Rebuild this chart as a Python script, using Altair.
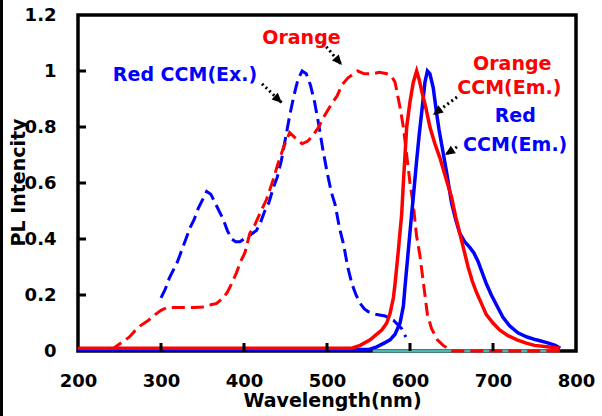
import altair as alt
import pandas as pd

# ---------------- data ----------------
# Red CCM (Ex.)  - blue dashed
red_ex_wl = [300, 305, 310, 315, 320, 325, 330, 335, 340, 345, 350, 355, 360, 365, 370, 375,
             380, 385, 390, 395, 400, 405, 410, 415, 420, 425, 430, 435, 440, 445, 450, 455,
             460, 465, 470, 475, 480, 485, 490, 495, 500, 505, 510, 515, 520, 525, 530, 535,
             540, 545, 550, 560, 570, 580, 590, 595]
red_ex_val = [0.19, 0.22, 0.26, 0.29, 0.32, 0.36, 0.40, 0.44, 0.47, 0.51, 0.54, 0.57, 0.56, 0.53,
              0.50, 0.47, 0.43, 0.40, 0.39, 0.39, 0.40, 0.41, 0.42, 0.43, 0.46, 0.50, 0.53, 0.58,
              0.62, 0.68, 0.76, 0.84, 0.91, 0.97, 1.00, 0.99, 0.95, 0.89, 0.81, 0.72, 0.64, 0.57,
              0.52, 0.44, 0.38, 0.30, 0.24, 0.20, 0.17, 0.15, 0.14, 0.13, 0.125, 0.11, 0.08, 0.05]

# Orange CCM (Ex.) - red dashed
orange_ex_wl = [240, 245, 250, 255, 262, 268, 275, 285, 293, 300, 307, 320, 331, 340, 350, 360,
                367, 375, 380, 385, 391, 396, 401, 407, 413, 419, 427, 435, 441, 448, 455, 462,
                470, 477, 483, 490, 497, 505, 512, 518, 525, 537, 545, 554, 563, 572, 578, 582,
                588, 592, 596, 600, 604, 608, 612, 615, 618, 621, 626, 633, 640, 650, 700, 780]
orange_ex_val = [0.0, 0.015, 0.025, 0.035, 0.05, 0.07, 0.09, 0.11, 0.13, 0.145, 0.155, 0.155,
                 0.155, 0.155, 0.157, 0.165, 0.17, 0.19, 0.21, 0.24, 0.28, 0.32, 0.35, 0.42, 0.45,
                 0.49, 0.54, 0.61, 0.67, 0.73, 0.78, 0.76, 0.74, 0.75, 0.77, 0.80, 0.84, 0.88,
                 0.91, 0.95, 0.975, 1.0, 0.99, 0.99, 0.995, 0.99, 0.98, 0.96, 0.87, 0.80, 0.70,
                 0.60, 0.52, 0.41, 0.34, 0.27, 0.20, 0.13, 0.08, 0.04, 0.02, 0.0, 0.0, 0.0]

# Orange CCM (Em.) - red solid
orange_em_wl = [200, 300, 400, 530, 540, 552, 560, 566, 572, 576, 580, 582, 586, 590, 592, 594,
                596, 600, 604, 608, 611, 614, 619, 624, 630, 636, 643, 650, 655, 660, 665, 670,
                675, 680, 686, 692, 700, 708, 718, 729, 740, 750, 765, 780]
orange_em_val = [0.01, 0.01, 0.01, 0.01, 0.02, 0.04, 0.06, 0.075, 0.10, 0.135, 0.19, 0.24, 0.36,
                 0.49, 0.60, 0.70, 0.80, 0.89, 0.96, 1.0, 0.97, 0.93, 0.87, 0.80, 0.74, 0.69,
                 0.62, 0.55, 0.48, 0.42, 0.36, 0.30, 0.25, 0.21, 0.17, 0.13, 0.10, 0.075, 0.055,
                 0.04, 0.028, 0.02, 0.015, 0.01]

# Red CCM (Em.) - blue solid
red_em_wl = [200, 300, 400, 500, 550, 560, 570, 576, 582, 588, 592, 594, 598, 602, 604, 608, 611,
             614, 618, 621, 624, 628, 632, 635, 638, 644, 650, 655, 660, 666, 672, 677, 682, 687,
             692, 698, 705, 712, 720, 730, 741, 752, 765, 775, 781]
red_em_val = [0.005, 0.005, 0.005, 0.005, 0.005, 0.015, 0.03, 0.04, 0.06, 0.10, 0.16, 0.23, 0.36,
              0.49, 0.55, 0.68, 0.77, 0.85, 0.96, 1.0, 0.99, 0.94, 0.85, 0.79, 0.74, 0.64, 0.53,
              0.47, 0.42, 0.39, 0.37, 0.35, 0.32, 0.28, 0.24, 0.20, 0.16, 0.12, 0.09, 0.065,
              0.05, 0.04, 0.03, 0.02, 0.01]

# baseline trace
base_wl = [555, 780]
base_val = [0.0, 0.0]

x_ticks = [200, 300, 400, 500, 600, 700, 800]
y_ticks = [0, 0.2, 0.4, 0.6, 0.8, 1.0, 1.2]
inner_x_ticks = [300, 400, 500, 600, 700]
inner_y_ticks = [0.2, 0.4, 0.6, 0.8, 1.0]

# annotations
ann_text = ["Red CCM(Ex.)", "Orange", "Orange", "CCM(Em.)", "Red", "CCM(Em.)"]
ann_x = [242, 422, 676, 657, 702, 664]
ann_y = [0.986, 1.118, 1.025, 0.939, 0.839, 0.736]
ann_col = ["blue", "red", "red", "red", "blue", "blue"]

arrow_x0 = [421.7, 495.2, 656.6, 656.6]
arrow_y0 = [0.954, 1.100, 0.907, 0.729]
arrow_x1 = [445.8, 518.0, 627.7, 642.2]
arrow_y1 = [0.886, 1.021, 0.843, 0.700]
arrow_angle = [133, 139, 233, 236]

# ---------------- build ----------------
def mk(wl, val, name):
    return pd.DataFrame({"wl": wl, "v": val, "s": name})

FONT = "DejaVu Sans"
xs = alt.Scale(domain=[200, 800], nice=False, zero=False)
ys = alt.Scale(domain=[0, 1.2], nice=False)

X = alt.X("wl:Q", scale=xs, axis=alt.Axis(
    values=x_ticks, title="Wavelength(nm)", grid=False, ticks=False, domain=False,
    labelFlush=False, labelFontSize=18, labelFont=FONT, labelFontWeight="bold",
    labelColor="black", labelPadding=21, titleFont=FONT, titleFontSize=19,
    titleFontWeight="bold", titleColor="black", titleX=254, titleY=49,
    titleAlign="center", titleBaseline="middle"))
Y = alt.Y("v:Q", scale=ys, axis=alt.Axis(
    values=y_ticks, format=".1~f", title="PL Intencity", grid=False, ticks=False,
    domain=False, labelFlush=False, labelFontSize=18, labelFont=FONT,
    labelFontWeight="bold", labelColor="black", labelPadding=22, titleFont=FONT,
    titleFontSize=19, titleFontWeight="bold", titleColor="black", titleX=-60,
    titleY=167, titleAlign="center", titleBaseline="middle", titleAngle=-90))

base_line = alt.Chart(mk(base_wl, base_val, "base")).mark_line(
    color="#4fb4b4", strokeWidth=3).encode(x=X, y=Y)
blue_dash = alt.Chart(mk(red_ex_wl, red_ex_val, "rex")).mark_line(
    color="#0000ff", strokeWidth=3, strokeDash=[13, 6]).encode(x=X, y=Y)
red_dash = alt.Chart(mk(orange_ex_wl, orange_ex_val, "oex")).mark_line(
    color="#ff0000", strokeWidth=3, strokeDash=[13, 6]).encode(x=X, y=Y)
blue_solid = alt.Chart(mk(red_em_wl, red_em_val, "rem")).mark_line(
    color="#0000ff", strokeWidth=3.5).encode(x=X, y=Y)
red_solid = alt.Chart(mk(orange_em_wl, orange_em_val, "oem")).mark_line(
    color="#ff0000", strokeWidth=3.5).encode(x=X, y=Y)

xt = alt.Chart(pd.DataFrame({"wl": inner_x_ticks})).mark_rule(
    color="black", strokeWidth=3).encode(
    x=alt.X("wl:Q", scale=xs), y=alt.value(336), y2=alt.value(328))
yt = alt.Chart(pd.DataFrame({"v": inner_y_ticks})).mark_rule(
    color="black", strokeWidth=3).encode(
    y=alt.Y("v:Q", scale=ys), x=alt.value(0), x2=alt.value(8))

ann = pd.DataFrame({"t": ann_text, "wl": ann_x, "v": ann_y, "c": ann_col})
texts = alt.Chart(ann).mark_text(
    align="left", baseline="middle", font=FONT, fontSize=19, fontWeight="bold").encode(
    x=alt.X("wl:Q", scale=xs), y=alt.Y("v:Q", scale=ys), text="t:N",
    color=alt.Color("c:N", scale=None))

arr = pd.DataFrame({"x0": arrow_x0, "y0": arrow_y0, "x1": arrow_x1, "y1": arrow_y1,
                    "a": arrow_angle})
arrow_lines = alt.Chart(arr).mark_rule(
    color="black", strokeWidth=3, strokeDash=[2, 3]).encode(
    x=alt.X("x0:Q", scale=xs), y=alt.Y("y0:Q", scale=ys),
    x2="x1:Q", y2="y1:Q")
arrow_heads = alt.Chart(arr).mark_point(
    shape="M0,0L-0.45,1L0.45,1Z", filled=True, color="black", opacity=1,
    size=400).encode(
    x=alt.X("x1:Q", scale=xs), y=alt.Y("y1:Q", scale=ys), angle=alt.Angle("a:Q", scale=None))

frame = alt.Chart(pd.DataFrame({"k": [0]})).mark_rule(
    color="black", strokeWidth=3).encode(
    x=alt.value(-76.5), y=alt.value(-15), y2=alt.value(401))

chart = alt.layer(
    base_line, blue_dash, red_dash, blue_solid, red_solid, xt, yt,
    arrow_lines, arrow_heads, texts, frame
).properties(
    width=498, height=336,
    autosize=alt.AutoSizeParams(type="none"),
    padding={"left": 78, "top": 15, "right": 26, "bottom": 65},
    background="white",
).configure_view(stroke="black", strokeWidth=3.5)

chart.save("out.html", embed_options={"renderer": "svg", "actions": False})
